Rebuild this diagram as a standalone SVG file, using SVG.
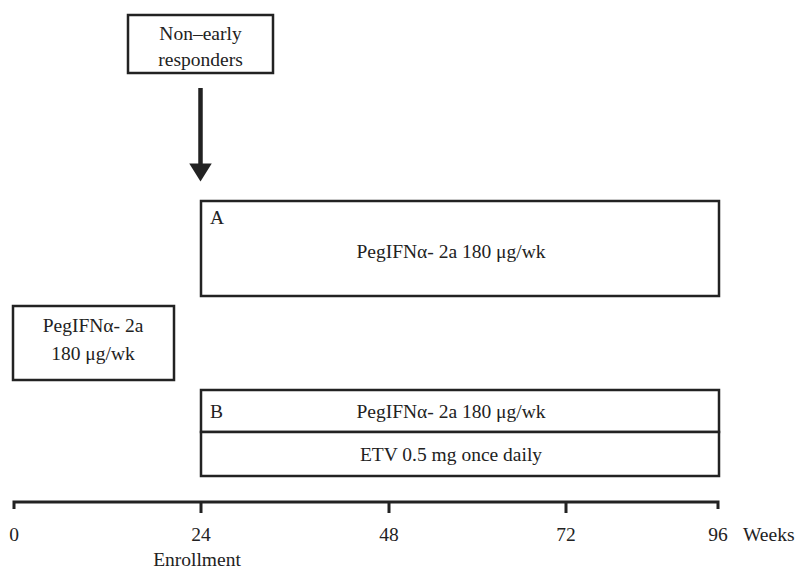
<svg xmlns="http://www.w3.org/2000/svg" width="800" height="571" viewBox="0 0 800 571">
<style>
.box{fill:#fff;stroke:#222;stroke-width:2.5}
text{font-family:"Liberation Serif","Times New Roman",serif;font-size:19.5px;fill:#222}
.c{text-anchor:middle}
.ax{stroke:#222;stroke-width:3;fill:none}
</style>
<defs>
<marker id="ah" markerWidth="6" markerHeight="5" refX="3" refY="0" orient="auto" markerUnits="strokeWidth" viewBox="0 -2.5 5 5">
<path d="M0,-2.5 L4,0 L0,2.5 Z" fill="#222"/>
</marker>
</defs>
<g id="nonearly">
<rect class="box" x="128" y="15" width="145" height="58"/>
<text class="c" x="200.5" y="40">Non–early</text>
<text class="c" x="200.5" y="66">responders</text>
</g>
<g id="connectors">
<line x1="200.5" y1="88" x2="200.5" y2="177" stroke="#222" stroke-width="4.5" marker-end="url(#ah)"/>
</g>
<g id="armA">
<rect class="box" x="201" y="201" width="518" height="95"/>
<text x="210" y="224">A</text>
<text class="c" x="451" y="258">PegIFNα- 2a 180 μg/wk</text>
</g>
<g id="lead">
<rect class="box" x="13" y="306" width="161" height="74"/>
<text class="c" x="93" y="332">PegIFNα- 2a</text>
<text class="c" x="93" y="360">180 μg/wk</text>
</g>
<g id="armB">
<rect class="box" x="201" y="390" width="518" height="42"/>
<text x="210" y="418">B</text>
<text class="c" x="451" y="418">PegIFNα- 2a 180 μg/wk</text>
<rect class="box" x="201" y="432" width="518" height="44"/>
<text class="c" x="451" y="461">ETV 0.5 mg once daily</text>
</g>
<g id="axis">
<path class="ax" d="M14,509 V502 H718 V509 M201,502 V513 M389,502 V513 M566,502 V513"/>
<text class="c" x="14" y="541">0</text>
<text class="c" x="201" y="541">24</text>
<text class="c" x="389" y="541">48</text>
<text class="c" x="566" y="541">72</text>
<text class="c" x="718" y="541">96</text>
<text x="743" y="541">Weeks</text>
<text class="c" x="197" y="566">Enrollment</text>
</g>
</svg>
